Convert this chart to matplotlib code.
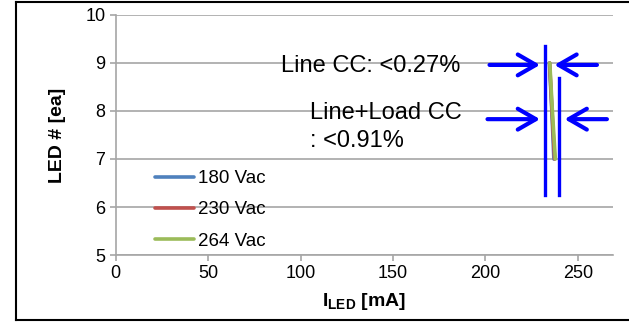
import matplotlib
matplotlib.use("Agg")
import matplotlib.pyplot as plt
from matplotlib.lines import Line2D

plt.rcParams['font.family'] = ['Liberation Sans', 'DejaVu Sans']
plt.rcParams['mathtext.fontset'] = 'custom'
plt.rcParams['mathtext.rm'] = 'Liberation Sans'
plt.rcParams['mathtext.bf'] = 'Liberation Sans:bold'

# dados
led_count = [9, 8, 7]
i_180 = [234.6, 235.9, 237.0]
i_230 = [234.7, 236.0, 237.4]
i_264 = [234.8, 236.2, 237.8]
series_labels = ['180 Vac', '230 Vac', '264 Vac']
series_colors = ['#4F81BD', '#C0504D', '#9BBB59']
x_ticks = [0, 50, 100, 150, 200, 250]
y_ticks = [5, 6, 7, 8, 9, 10]

# anotações (limites de regulação)
line_cc_x = 232.0
load_cc_x = 239.6

fig = plt.figure(figsize=(6.29, 3.23), dpi=100)
ax = fig.add_axes([0.184, 0.2105, 0.7906, 0.7431])

for vals, lab, col in zip([i_180, i_230, i_264], series_labels, series_colors):
    ax.plot(vals, led_count, color=col, lw=2.6, label=lab, solid_capstyle='round')

ax.set_xlim(0, 269)
ax.set_ylim(5, 10)
ax.set_xticks(x_ticks)
ax.set_yticks(y_ticks)
ax.grid(axis='y', color='#A6A6A6', lw=1.2)
ax.set_axisbelow(True)
for s in ['top', 'right']:
    ax.spines[s].set_visible(False)
for s in ['left', 'bottom']:
    ax.spines[s].set_color('#A6A6A6')
    ax.spines[s].set_linewidth(1.2)
ax.tick_params(colors='#A6A6A6', labelcolor='black', labelsize=13, length=4, width=1.2)

ax.set_ylabel('LED # [ea]', fontsize=14, fontweight='bold', labelpad=14)
ax.set_xlabel(r'$\mathbf{I}_{\mathbf{LED}}$ [mA]', fontsize=14, fontweight='bold', labelpad=6)

# linhas verticais e setas
ax.plot([line_cc_x, line_cc_x], [6.25, 9.35], color='#0000FF', lw=2.4)
ax.plot([load_cc_x, load_cc_x], [6.25, 8.69], color='#0000FF', lw=2.4)
arrow = dict(arrowstyle='->, head_length=1.3, head_width=0.75', color='#0000FF', lw=3)
ax.annotate('', xy=(231.0, 8.96), xytext=(200.7, 8.96), arrowprops=arrow)
ax.annotate('', xy=(235.8, 8.96), xytext=(261.8, 8.96), arrowprops=arrow)
ax.annotate('', xy=(231.0, 7.83), xytext=(199.6, 7.83), arrowprops=arrow)
ax.annotate('', xy=(241.3, 7.83), xytext=(267.2, 7.83), arrowprops=arrow)

ax.text(89.4, 8.93, 'Line CC: <0.27%', fontsize=17, va='center', ha='left')
ax.text(105, 7.96, 'Line+Load CC', fontsize=17, va='center', ha='left')
ax.text(105, 7.38, ': <0.91%', fontsize=17, va='center', ha='left')

ax.legend(loc='upper left', bbox_to_anchor=(155 / 629, 1 - 170 / 323),
          bbox_transform=fig.transFigure, frameon=False, fontsize=13.5,
          handlelength=2.1, handletextpad=0.2, labelspacing=0.75,
          borderpad=0, borderaxespad=0)

# moldura externa
fig.add_artist(Line2D([16 / 629, 16 / 629], [3 / 323, 321 / 323], color='black', lw=1.5))
fig.add_artist(Line2D([16 / 629, 1], [321 / 323, 321 / 323], color='black', lw=1.5))
fig.add_artist(Line2D([16 / 629, 1], [3 / 323, 3 / 323], color='black', lw=1.5))

fig.savefig('out.png', dpi=100)
